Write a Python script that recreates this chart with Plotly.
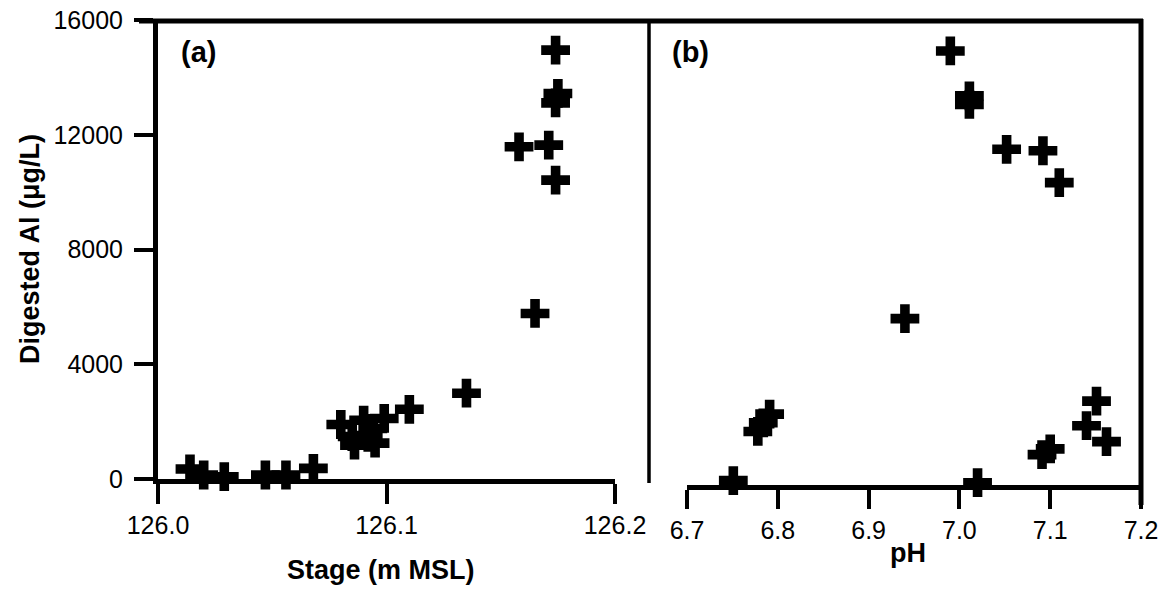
import plotly.graph_objects as go

# ---- data ----
stage = [126.014, 126.020, 126.029, 126.047, 126.056, 126.068,
         126.080, 126.085, 126.086, 126.090, 126.092, 126.094, 126.095, 126.099,
         126.110, 126.135, 126.165,
         126.158, 126.171, 126.174, 126.174, 126.175, 126.174]
al_stage = [350, 140, 80, 140, 140, 370,
            1900, 1480, 1180, 2050, 1450, 1760, 1250, 2110,
            2430, 2990, 5770,
            11580, 11640, 10420, 13110, 13440, 14950]

ph = [6.751, 6.778, 6.784, 6.791, 6.940, 6.990, 7.011, 7.011, 7.052,
      7.092, 7.110, 7.020, 7.151, 7.140, 7.162, 7.091, 7.100]
al_ph = [150, 1850, 2150, 2450, 5750, 15000, 13450, 13150, 11600,
         11550, 10450, 80, 2900, 2050, 1500, 1050, 1250]

x1_ticks = [126.0, 126.1, 126.2]
x1_text = ["126.0", "126.1", "126.2"]
x2_ticks = [6.7, 6.8, 6.9, 7.0, 7.1, 7.2]
x2_text = ["6.7", "6.8", "6.9", "7.0", "7.1", "7.2"]
y_ticks = [0, 4000, 8000, 12000, 16000]
y_text = ["0", "4000", "8000", "12000", "16000"]

W, H = 1163, 593
def px(x):
    return x / W
def py(y):
    return 1 - y / H

FONT = "Liberation Sans, Arial"
tickfont = dict(family=FONT, size=25, color="black")

marker = dict(symbol="cross", size=24, color="black", line=dict(width=0))

fig = go.Figure()
fig.add_trace(go.Scatter(x=stage, y=al_stage, mode="markers", marker=marker,
                         cliponaxis=False, xaxis="x", yaxis="y", showlegend=False))
fig.add_trace(go.Scatter(x=ph, y=al_ph, mode="markers", marker=marker,
                         cliponaxis=False, xaxis="x2", yaxis="y2", showlegend=False))

axis_common = dict(showgrid=False, zeroline=False, showline=True, linecolor="black",
                   linewidth=5, ticks="outside", tickcolor="black", tickwidth=4,
                   tickfont=tickfont, automargin=False)

fig.update_layout(
    template="none",
    width=W, height=H,
    margin=dict(l=0, r=0, t=0, b=0, pad=0),
    paper_bgcolor="white", plot_bgcolor="white",
    xaxis=dict(domain=[px(158), px(615)], range=[126.0, 126.2], anchor="y",
               tickvals=x1_ticks, ticktext=x1_text, ticklen=20,
               ticklabelstandoff=0, **axis_common),
    yaxis=dict(domain=[py(479), py(20)], range=[0, 16000], anchor="x",
               tickvals=y_ticks, ticktext=y_text, ticklen=19,
               ticklabelstandoff=6, **axis_common),
    xaxis2=dict(domain=[px(687), px(1141)], range=[6.7, 7.2], anchor="y2",
                tickvals=x2_ticks, ticktext=x2_text, ticklen=19,
                ticklabelstandoff=0, **axis_common),
    yaxis2=dict(domain=[py(485), py(22)], range=[0, 16000], anchor="x2",
                visible=False, automargin=False),
)

# frame lines
fig.add_shape(type="line", xref="paper", yref="paper",
              x0=px(139), x1=px(1143), y0=py(21), y1=py(21),
              line=dict(color="black", width=5))
fig.add_shape(type="line", xref="paper", yref="paper",
              x0=px(649), x1=px(649), y0=py(20), y1=py(483),
              line=dict(color="black", width=3.5))
fig.add_shape(type="line", xref="paper", yref="paper",
              x0=px(1141), x1=px(1141), y0=py(19), y1=py(505),
              line=dict(color="black", width=5))

bold = dict(family="Liberation Sans, Arial", size=27, color="black")
panel = dict(family="Liberation Sans, Arial", size=29, color="black")
fig.add_annotation(text="<b>Digested Al (μg/L)</b>", xref="paper", yref="paper",
                   x=px(30), y=py(249), textangle=-90, showarrow=False,
                   font=bold, xanchor="center", yanchor="middle")
fig.add_annotation(text="<b>Stage (m MSL)</b>", xref="paper", yref="paper",
                   x=px(381), y=py(570), showarrow=False, font=bold,
                   xanchor="center", yanchor="middle")
fig.add_annotation(text="<b>pH</b>", xref="paper", yref="paper",
                   x=px(908), y=py(553), showarrow=False, font=bold,
                   xanchor="center", yanchor="middle")
fig.add_annotation(text="<b>(a)</b>", xref="paper", yref="paper",
                   x=px(198), y=py(52), showarrow=False, font=panel,
                   xanchor="center", yanchor="middle")
fig.add_annotation(text="<b>(b)</b>", xref="paper", yref="paper",
                   x=px(690), y=py(52), showarrow=False, font=panel,
                   xanchor="center", yanchor="middle")

fig.write_html("out.html")
